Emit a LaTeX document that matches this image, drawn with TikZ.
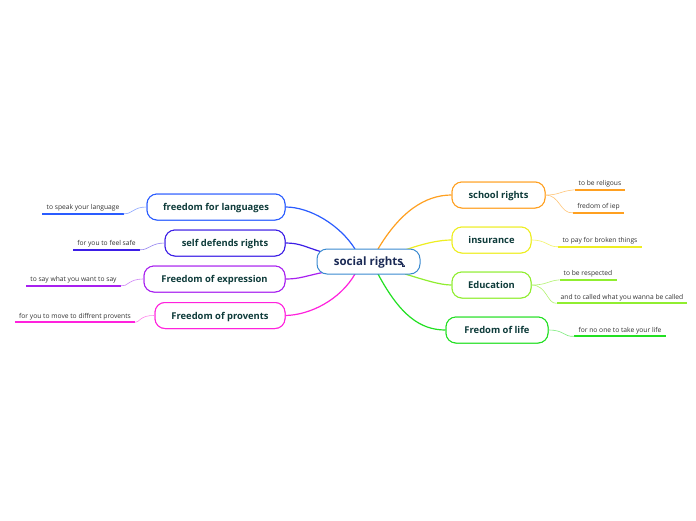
\documentclass[tikz,border=0pt]{standalone}
\usepackage{fontspec}
\setmainfont{Open Sans}
\begin{document}
\begin{tikzpicture}[x=1pt,y=-1pt,
  box/.style={draw, line width=1pt, rounded corners=10pt, fill=white, inner sep=0pt,
    text height=8.5pt, text depth=1pt,
    minimum height=26pt, font=\fontsize{9.4}{10}\selectfont\bfseries, text=branchtext},
  leaf/.style={inner xsep=4pt, inner ysep=2.5pt, anchor=base, font=\fontsize{6.7}{7}\selectfont, text=leaftext},
  ul/.style={line width=1.8pt},
  main/.style={line width=1.2pt},
  sub/.style={line width=0.6pt}]
\definecolor{branchtext}{HTML}{0E3B3A}
\definecolor{leaftext}{HTML}{333333}
\definecolor{cbord}{HTML}{3A8AD0}
\definecolor{cnavy}{HTML}{1B2A55}
\definecolor{cblue}{HTML}{2A5CFF}
\definecolor{cindigo}{HTML}{3C1EE6}
\definecolor{cpurple}{HTML}{A820F0}
\definecolor{cmag}{HTML}{FF22DD}
\definecolor{corange}{HTML}{FFA020}
\definecolor{cyellow}{HTML}{EEEE20}
\definecolor{clgreen}{HTML}{90EE30}
\definecolor{cgreen}{HTML}{22E022}
\useasboundingbox (0,0) rectangle (696,520);
\fill[white] (0,0) rectangle (696,520);

% connector anchor points on the central node
\coordinate (cb) at (355,249);
\coordinate (co) at (378,249);
\coordinate (cy) at (405,250);
\coordinate (clg) at (405,274);
\coordinate (cg) at (378,274);
\coordinate (cm) at (355,274);
\coordinate (cp) at (325,272);
\coordinate (ci) at (322,252);

\node[box, draw=cblue, minimum width=138pt] (b1) at (216,207) {freedom for languages};
\node[box, draw=cindigo, minimum width=120pt] (b2) at (225,243) {self defends rights};
\node[box, draw=cpurple, minimum width=141pt] (b3) at (214.5,279) {Freedom of expression};
\node[box, draw=cmag, minimum width=130pt] (b4) at (220,315.5) {Freedom of provents};
\node[box, draw=corange, minimum width=93pt] (r1) at (498.5,195) {school rights};
\node[box, draw=cyellow, minimum width=79pt] (r2) at (491.5,240) {insurance};
\node[box, draw=clgreen, minimum width=79pt] (r3) at (491.5,285) {Education};
\node[box, draw=cgreen, minimum width=102pt] (r4) at (497,330) {Fredom of life};

\draw[main, cblue] (cb) .. controls (340,225) and (310,207) .. (b1.east);
\draw[main, cindigo] (ci) .. controls (305,247) and (300,243) .. (b2.east);
\draw[main, cpurple] (cp) .. controls (305,276) and (300,279) .. (b3.east);
\draw[main, cmag] (cm) .. controls (340,300) and (310,315) .. (b4.east);
\draw[main, corange] (co) .. controls (400,212) and (425,195) .. (r1.west);
\draw[main, cyellow] (cy) .. controls (425,243) and (440,240) .. (r2.west);
\draw[main, clgreen] (clg) .. controls (425,280) and (440,285) .. (r3.west);
\draw[main, cgreen] (cg) .. controls (400,315) and (420,330) .. (r4.west);

% redraw boxes on top of the connectors
\node[box, draw=cblue, minimum width=138pt] at (b1) {freedom for languages};
\node[box, draw=cindigo, minimum width=120pt] at (b2) {self defends rights};
\node[box, draw=cpurple, minimum width=141pt] at (b3) {Freedom of expression};
\node[box, draw=cmag, minimum width=130pt] at (b4) {Freedom of provents};
\node[box, draw=corange, minimum width=93pt] at (r1) {school rights};
\node[box, draw=cyellow, minimum width=79pt] at (r2) {insurance};
\node[box, draw=clgreen, minimum width=79pt] at (r3) {Education};
\node[box, draw=cgreen, minimum width=102pt] at (r4) {Fredom of life};

% central node
\node[draw=cbord, line width=1pt, rounded corners=10pt, fill=white, minimum width=103pt, minimum height=25pt,
  inner sep=0pt, text height=9.5pt, text depth=1.5pt,
  font=\fontsize{11.5}{12}\selectfont\bfseries, text=cnavy] (c) at (368.5,261.5) {social rights\hspace{5pt}};
\draw[cnavy, line width=1pt] (402,263) -- (402,266) -- (404.5,266);
\draw[cnavy, line width=0.8pt] (400.5,261.5) -- (404.5,266);

% left leaves
\node[leaf] (l1) at (83,209.5) {to speak your language};
\node[leaf] (l2) at (106.5,245.5) {for you to feel safe};
\node[leaf] (l3) at (73.5,281.5) {to say what you want to say};
\node[leaf] (l4) at (75,318) {for you to move to diffrent provents};
\draw[ul, cblue] (l1.south west) -- (l1.south east);
\draw[ul, cindigo] (l2.south west) -- (l2.south east);
\draw[ul, cpurple] (l3.south west) -- (l3.south east);
\draw[ul, cmag] (l4.south west) -- (l4.south east);
\draw[sub, cblue!55] (b1.west) .. controls (133,207) and (133,214) .. (l1.south east);
\draw[sub, cindigo!55] (b2.west) .. controls (151,243) and (149,250) .. (l2.south east);
\draw[sub, cpurple!55] (b3.west) .. controls (128,279) and (128,287) .. (l3.south east);
\draw[sub, cmag!55] (b4.west) .. controls (140,315) and (139,323) .. (l4.south east);

% right leaves
\node[leaf] (m1) at (600,185.5) {to be religous};
\node[leaf] (m2) at (598.5,208.5) {fredom of iep};
\node[leaf] (m3) at (600,242.5) {to pay for broken things};
\node[leaf] (m4) at (588,275.5) {to be respected};
\node[leaf] (m5) at (622,299) {and to called what you wanna be called};
\node[leaf] (m6) at (620,332) {for no one to take your life};
\draw[ul, corange] (m1.south west) -- (m1.south east);
\draw[ul, corange] (m2.south west) -- (m2.south east);
\draw[ul, cyellow] (m3.south west) -- (m3.south east);
\draw[ul, clgreen] (m4.south west) -- (m4.south east);
\draw[ul, clgreen] (m5.south west) -- (m5.south east);
\draw[ul, cgreen] (m6.south west) -- (m6.south east);
\draw[sub, corange!60] (r1.east) .. controls (560,195) and (560,191) .. (m1.south west);
\draw[sub, corange!60] (r1.east) .. controls (560,195) and (560,214) .. (m2.south west);
\draw[sub, cyellow!70] (r2.east) .. controls (547,240) and (547,247) .. (m3.south west);
\draw[sub, clgreen!70] (r3.east) .. controls (547,285) and (547,281) .. (m4.south west);
\draw[sub, clgreen!70] (r3.east) .. controls (547,285) and (547,304) .. (m5.south west);
\draw[sub, cgreen!60] (r4.east) .. controls (565,330) and (563,337) .. (m6.south west);
\end{tikzpicture}
\end{document}
